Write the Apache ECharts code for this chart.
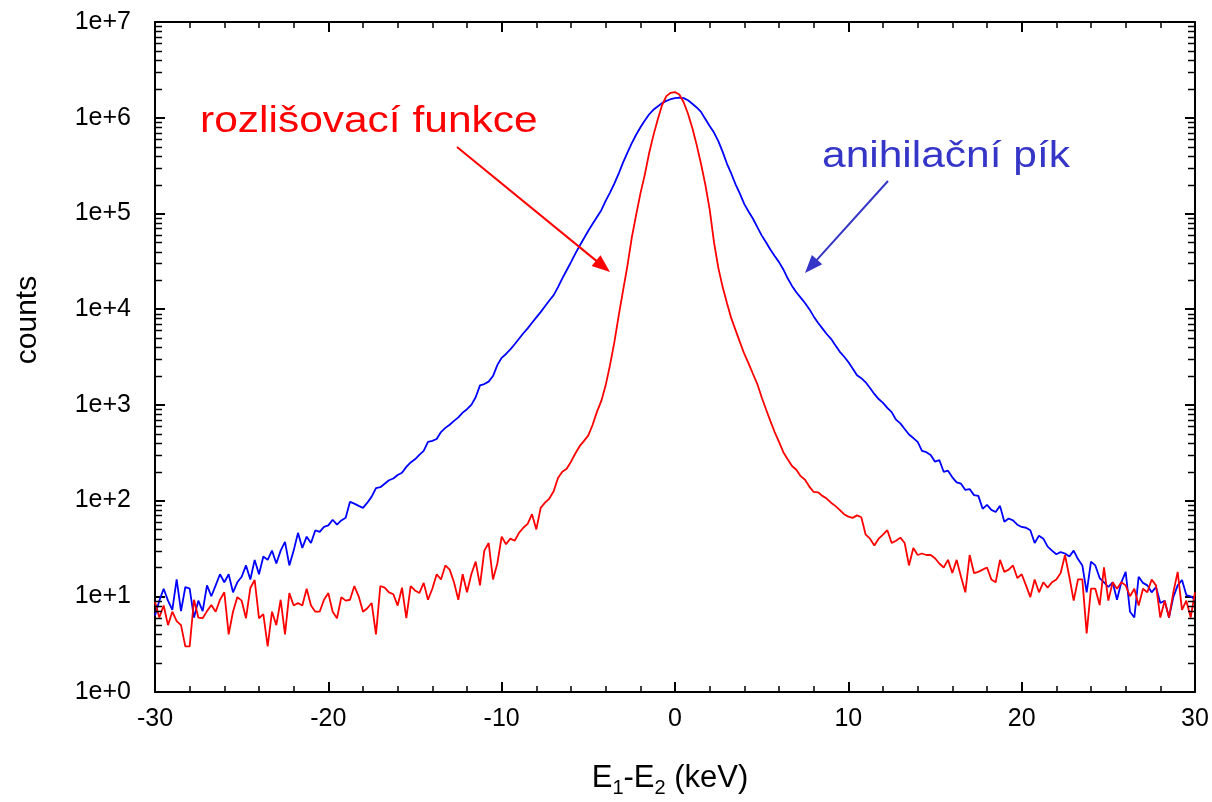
<!DOCTYPE html>
<html>
<head>
<meta charset="utf-8">
<script src="https://cdn.jsdelivr.net/npm/echarts@6/dist/echarts.min.js"></script>
<style>
html,body{margin:0;padding:0;background:#ffffff;}
#chart{width:1212px;height:802px;}
</style>
</head>
<body>
<div id="chart"></div>
<script>
// ---- data ----
const energyStart = -30;   // keV
const energyStep = 0.25;   // keV, sampling grid
const xTickValues = [-30, -20, -10, 0, 10, 20, 30];
const yDecadeExponents = [0, 1, 2, 3, 4, 5, 6, 7];
const seriesNames = ['anihilační pík', 'rozlišovací funkce'];

// anihilační pík (blue)
const blueCounts = [
  6.3, 9, 12, 9, 7.2, 15, 7, 12.5, 12, 6, 9, 7, 13, 10, 13, 17, 14, 17, 11, 14,
  16, 21, 15, 24, 17, 26, 24, 30, 22, 30, 37, 21, 30, 46, 32, 42, 36, 49, 47, 53,
  55, 63, 56, 62, 66, 97, 93, 88, 84, 95, 110, 135, 138, 150, 163, 170, 185, 195, 225, 250,
  270, 300, 330, 410, 420, 440, 520, 575, 620, 680, 740, 830, 900, 1000, 1200, 1600, 1650, 1750, 2000, 2600,
  3100, 3400, 3800, 4300, 4900, 5600, 6300, 7200, 8200, 9300, 10700, 12300, 14000, 17000, 21000, 25500, 31000, 38000, 46000, 55000,
  66000, 78000, 92000, 108000, 135000, 165000, 205000, 260000, 340000, 430000, 540000, 660000, 790000, 930000, 1080000, 1210000, 1310000, 1420000, 1500000, 1560000,
  1600000, 1620000, 1600000, 1520000, 1400000, 1280000, 1150000, 970000, 820000, 700000, 570000, 440000, 330000, 260000, 200000, 160000, 125000, 104000, 88000, 72000,
  59000, 50000, 42000, 36000, 31000, 26000, 21000, 17500, 15000, 13200, 11600, 10000, 8400, 7200, 6300, 5500, 4900, 4200, 3600, 3200,
  2800, 2400, 2040, 1900, 1720, 1500, 1300, 1150, 1050, 930, 840, 700, 640, 560, 490, 450, 410, 330, 320, 300,
  255, 265, 200, 205, 175, 155, 150, 129, 132, 114, 112, 82, 90, 80, 76, 88, 60, 65, 62, 56,
  53, 52, 49, 36, 43, 40, 33, 30, 27.5, 29, 28, 26, 30, 24.5, 21, 11, 23, 21, 15.5, 14,
  12.5, 14, 9.2, 14, 18, 6.9, 6, 16, 13.8, 13, 11, 12.5, 8.5, 9, 6, 9.8, 13, 14.8, 10.3, 10,
  9.2
];

// rozlišovací funkce (red)
const redCounts = [
  8.7, 6, 8, 5, 6.9, 5.5, 5, 3, 3, 9.2, 6, 5.9, 7, 8.1, 6.9, 9.2, 11, 4, 6.9, 9.8,
  9, 5.9, 12.2, 14.8, 5.9, 6.5, 3, 6.9, 5, 9.2, 4, 10.8, 8, 8.5, 8, 12, 8, 6.9, 6.9, 9.2,
  10.8, 6.9, 5.9, 9.8, 9, 9.2, 12.8, 10, 6.9, 7.5, 8.5, 4, 12.8, 12.3, 11, 10.5, 8, 12.3, 5.9, 12.8,
  11.5, 10.8, 13.8, 9.2, 12, 17, 15, 21, 19, 14, 9.2, 17, 11, 17, 23, 13, 30, 36, 15, 22,
  42, 35, 40, 38, 46, 52, 57, 72, 50, 84, 95, 105, 125, 172, 200, 215, 255, 310, 370, 420,
  480, 620, 850, 1100, 1600, 2600, 4500, 8500, 15500, 28000, 55000, 95000, 160000, 250000, 420000, 650000, 950000, 1350000, 1680000, 1820000,
  1850000, 1750000, 1450000, 1100000, 780000, 520000, 330000, 200000, 110000, 50000, 27000, 17000, 11500, 8000, 6000, 4500, 3400, 2700, 2100, 1650,
  1200, 900, 680, 520, 410, 320, 270, 230, 210, 180, 165, 140, 123, 122, 112, 105, 95, 88, 80, 72,
  68, 66, 70, 67, 44, 40, 34, 40, 44, 49, 36, 38, 41, 36, 21, 32, 27, 28, 27, 27,
  25, 22, 20, 24, 17.5, 24, 16, 11, 27, 17.5, 18, 19, 20, 15, 14, 24, 18, 19, 21, 15.5,
  17, 13, 9.8, 15, 11, 14, 12.3, 14, 15, 17.5, 27, 16, 9, 15, 15, 4.1, 12, 12, 8.1, 20,
  9, 14, 12, 14, 13, 10, 12, 8, 12, 11, 15, 13, 6, 9, 6, 11, 18, 7.2, 9, 6,
  11
];

// ---- chart ----
const FONT = '"Liberation Sans", Arial, sans-serif';
const energies = blueCounts.map((_, i) => energyStart + i * energyStep);
const pairs = arr => arr.map((v, i) => [energies[i], v]);

const chart = echarts.init(document.getElementById('chart'), null, {renderer: 'canvas'});

const xMin = xTickValues[0], xMax = xTickValues[xTickValues.length - 1];
const yMin = Math.pow(10, yDecadeExponents[0]);
const yMax = Math.pow(10, yDecadeExponents[yDecadeExponents.length - 1]);

const axisLineStyle = {color: '#000', width: 2};
function xAxisDef(pos, showLabel) {
  return {
    type: 'value', position: pos, min: xMin, max: xMax, interval: 10,
    axisLine: {show: true, onZero: false, lineStyle: axisLineStyle},
    axisTick: {show: true, inside: true, length: 10, lineStyle: {color: '#000', width: 2}},
    minorTick: {show: true, splitNumber: 5, length: 6, lineStyle: {color: '#000', width: 1.5}},
    splitLine: {show: false},
    axisLabel: {show: showLabel, fontSize: 25, color: '#000', fontFamily: FONT, margin: 15},
  };
}
function yAxisDef(pos, showLabel) {
  return {
    type: 'log', logBase: 10, position: pos, min: yMin, max: yMax, splitNumber: 7,
    axisLine: {show: true, onZero: false, lineStyle: axisLineStyle},
    axisTick: {show: true, inside: true, length: 10, lineStyle: {color: '#000', width: 2}},
    minorTick: {show: false},
    splitLine: {show: false},
    axisLabel: {
      show: showLabel, fontSize: 25, color: '#000', fontFamily: FONT, margin: 24,
      formatter: v => '1e+' + Math.round(Math.log10(v))
    },
  };
}

const xBottom = xAxisDef('bottom', true);
xBottom.name = '{m|E}{s|1}{m|-E}{s|2}{m| (keV)}';
xBottom.nameLocation = 'middle';
xBottom.nameGap = 66;
xBottom.nameTextStyle = {
  padding: [0, 10, 0, 0],
  rich: {
    m: {fontSize: 31, fontFamily: FONT, color: '#000', lineHeight: 40},
    s: {fontSize: 20, fontFamily: FONT, color: '#000', lineHeight: 40, verticalAlign: 'bottom'}
  }
};
const yLeft = yAxisDef('left', true);
yLeft.name = 'counts';
yLeft.nameLocation = 'middle';
yLeft.nameRotate = 90;
yLeft.nameGap = 112;
yLeft.nameTextStyle = {fontSize: 30, fontFamily: FONT, color: '#000', padding: [0, 0, 0, 74]};

chart.setOption({
  backgroundColor: '#ffffff',
  animation: false,
  grid: {left: 155, right: 17, top: 22, bottom: 110, containLabel: false, outerBoundsMode: 'none'},
  xAxis: [xBottom, xAxisDef('top', false)],
  yAxis: [yLeft, yAxisDef('right', false)],
  series: [
    {name: seriesNames[0], type: 'line', xAxisIndex: 0, yAxisIndex: 0, data: pairs(blueCounts),
     showSymbol: false, symbol: 'none', lineStyle: {color: '#0000ff', width: 1.8}, itemStyle: {color: '#0000ff'}, z: 2},
    {name: seriesNames[1], type: 'line', xAxisIndex: 0, yAxisIndex: 0, data: pairs(redCounts),
     showSymbol: false, symbol: 'none', lineStyle: {color: '#ff0000', width: 1.8}, itemStyle: {color: '#ff0000'}, z: 3}
  ]
});

// ---- log minor ticks, annotations ----
const gx0 = chart.convertToPixel({xAxisIndex: 0}, xMin);
const gx1 = chart.convertToPixel({xAxisIndex: 0}, xMax);
const elements = [];
for (let e = yDecadeExponents[0]; e < yDecadeExponents[yDecadeExponents.length - 1]; e++) {
  for (let k = 2; k <= 9; k++) {
    const py = Math.round(chart.convertToPixel({yAxisIndex: 0}, k * Math.pow(10, e))) + 0.5;
    elements.push({type: 'line', silent: true, z: 10,
      shape: {x1: gx0, y1: py, x2: gx0 + 7, y2: py}, style: {stroke: '#000', lineWidth: 1.5}});
    elements.push({type: 'line', silent: true, z: 10,
      shape: {x1: gx1, y1: py, x2: gx1 - 7, y2: py}, style: {stroke: '#000', lineWidth: 1.5}});
  }
}

function arrow(x1, y1, x2, y2, color, headLen, headW) {
  const dx = x2 - x1, dy = y2 - y1, L = Math.hypot(dx, dy);
  const ux = dx / L, uy = dy / L, nx = -uy, ny = ux;
  const bx = x2 - ux * headLen, by = y2 - uy * headLen;
  elements.push({type: 'line', silent: true, z: 20,
    shape: {x1: x1, y1: y1, x2: bx + ux * 2, y2: by + uy * 2}, style: {stroke: color, lineWidth: 2}});
  elements.push({type: 'polygon', silent: true, z: 20,
    shape: {points: [[x2, y2], [bx + nx * headW / 2, by + ny * headW / 2], [bx - nx * headW / 2, by - ny * headW / 2]]},
    style: {fill: color}});
}
const annBlue = '#3535c8';
arrow(457, 147, 610, 272, '#ff0000', 18, 14);
arrow(888, 181, 805, 273, annBlue, 18, 14);

function label(text, x, y, color) {
  elements.push({type: 'text', silent: true, z: 20, x: x, y: y, scaleX: 1.18, scaleY: 1,
    style: {text: text, fill: color, font: '36px ' + FONT,
      align: 'left', textAlign: 'left', verticalAlign: 'alphabetic', textVerticalAlign: 'bottom'}});
}
label('rozlišovací funkce', 200, 140, '#ff0000');
label('anihilační pík', 822, 175, annBlue);

chart.setOption({graphic: {elements: elements}});
</script>
</body>
</html>
